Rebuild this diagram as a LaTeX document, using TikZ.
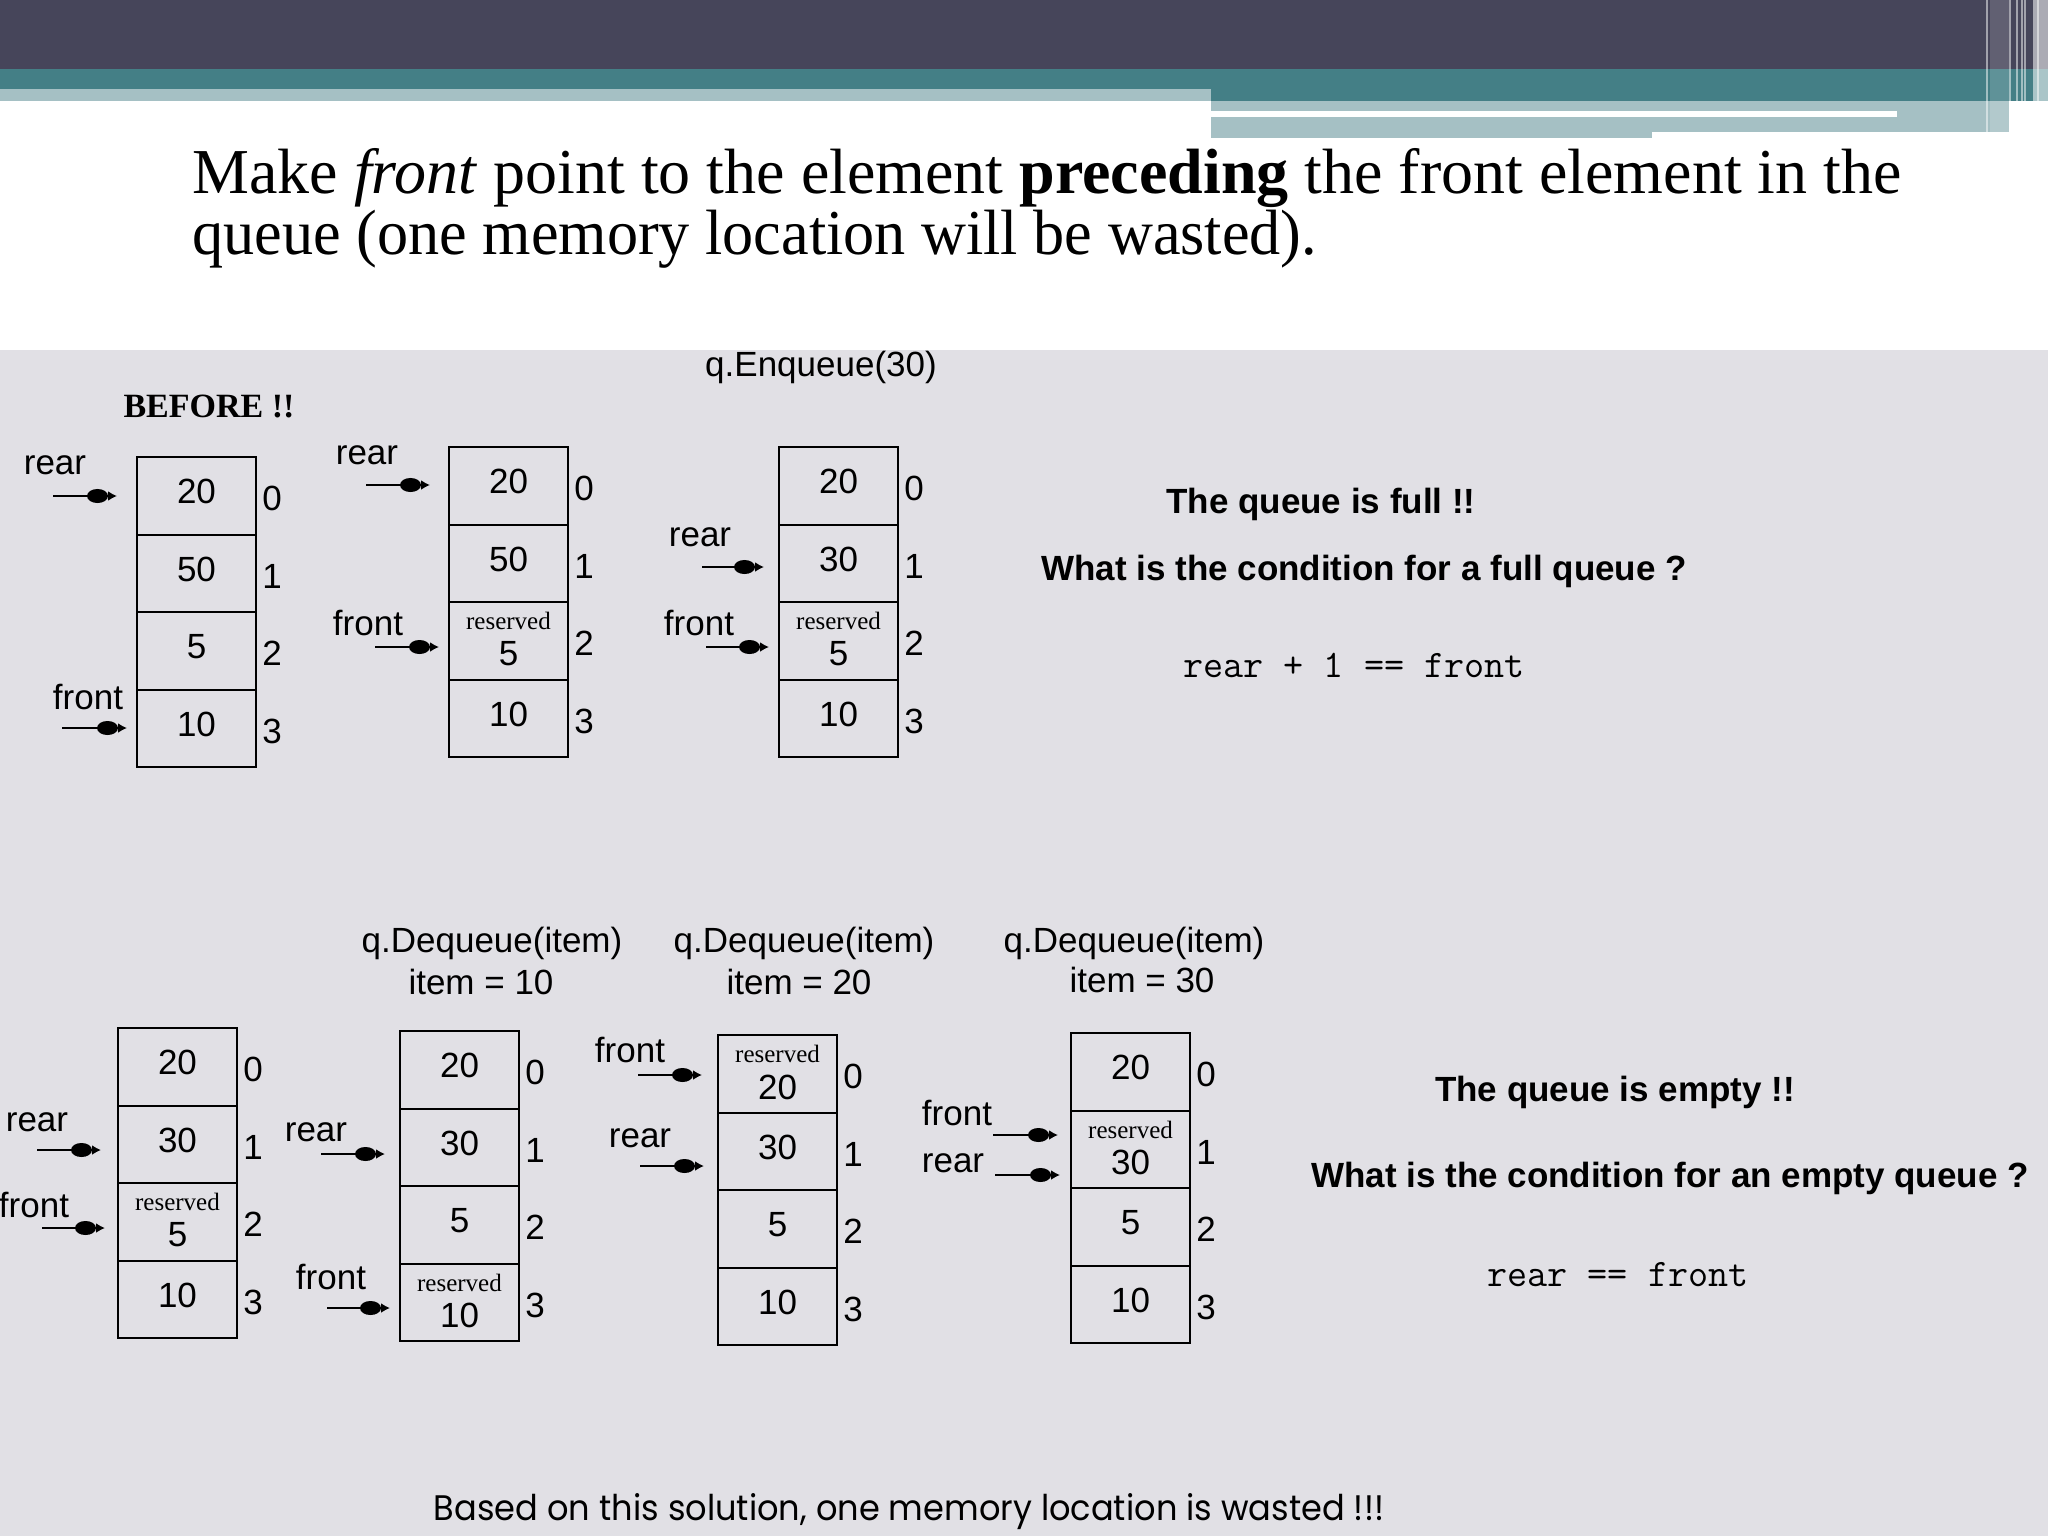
\documentclass[tikz,border=0pt]{standalone}
\usepackage{fontspec}
\usepackage{graphicx}
\setmainfont{Liberation Serif}
\setsansfont{Liberation Sans}
\newfontfamily\capfont{Poppins}
\usetikzlibrary{arrows.meta}
\definecolor{hdark}{RGB}{70,69,90}
\definecolor{hteal}{RGB}{68,127,134}
\definecolor{hlight}{RGB}{165,192,196}
\definecolor{bggray}{RGB}{225,224,229}
\tikzset{
 cellbox/.style={draw=black, line width=1pt, minimum width=59.5pt, minimum height=38.75pt, inner sep=0pt},
 val/.style={font=\fontsize{17.5}{20}\selectfont\sffamily, inner sep=0pt},
 idx/.style={font=\fontsize{17.5}{20}\selectfont\sffamily, inner sep=0pt},
 resv/.style={font=\fontsize{12.5}{14}\selectfont\rmfamily, inner sep=0pt},
 ptrlabel/.style={font=\fontsize{17.5}{20}\selectfont\sffamily, inner sep=0pt},
 ptr/.style={line width=1pt, -{Ellipse[length=10.5pt,width=7pt] Latex[length=4.5pt,width=5pt]}, shorten >=6.5pt},
 optext/.style={font=\fontsize{17.5}{20}\selectfont\sffamily, inner sep=0pt},
 boldtext/.style={font=\fontsize{17.5}{20}\selectfont\sffamily\bfseries, inner sep=0pt},
 codetext/.style={font=\fontsize{19.5}{22}\selectfont\ttfamily, inner sep=0pt},
 titletext/.style={font=\fontsize{32}{30.5}\selectfont\rmfamily, inner sep=0pt, anchor=base west},
}
\newcommand\qdraw[8]{%
 \foreach \v [count=\i from 0] in {#4,#5,#6,#7} {
   \node[cellbox] (#1-\i) at ({#2+59.5},{#3+77.5*\i+38.75}) {};
   \node[idx] (#1-i\i) at ([xshift=7.5pt,yshift=-1.5pt]#1-\i.east) {\i};
   \ifnum\i=#8
     \node[resv] (#1-r\i) at ([yshift=-10pt]#1-\i.north) {reserved};
     \node[val] (#1-v\i) at ([yshift=-26.5pt]#1-\i.north) {\v};
   \else
     \node[val] (#1-v\i) at ([yshift=2pt]#1-\i.center) {\v};
   \fi
 }}
\newcommand\ptrto[6]{% name, label, labelx, labely, startx, starty
  \node[ptrlabel] (#1l) at (#3,#4) {#2};
  \coordinate (#1s) at (#5,#6);}
\begin{document}
\begin{tikzpicture}[x=0.5pt,y=-0.5pt]
\useasboundingbox (0,0) rectangle (2048,1536);
% header
\fill[white] (0,0) rectangle (2048,1536);
\fill[hdark] (0,0) rectangle (2048,69);
\fill[hteal] (0,69) rectangle (2048,101);
\fill[hlight] (0,89) rectangle (1211,101);
\fill[hlight] (1211,101) rectangle (2009,138);
\fill[white] (1211,111) rectangle (1897,117);
\fill[white] (1652,132) rectangle (2009,138);
\fill[white,opacity=0.15] (1990,0) rectangle (2009,138);
\fill[white,opacity=0.55] (2033,0) rectangle (2048,138);
\foreach \xx in {1987,2010,2017,2022,2025,2038}
  \draw[white,opacity=0.5,line width=0.6pt] (\xx,0) -- (\xx,138);
% gray area
\fill[bggray] (0,350) rectangle (2048,1536);
% title
\node[titletext] (t1) at (192,193) {Make \textit{front} point to the element \textbf{preceding} the front element in the};
\node[titletext] (t2) at (192,254) {\scalebox{0.972}[1]{queue (one memory location will be wasted).}};
% labels
\node[font=\fontsize{17}{20}\selectfont\rmfamily\bfseries, inner sep=0pt] (before) at (209,406) {BEFORE !!};
\node[optext] (enq) at (821,367) {q.Enqueue(30)};
\node[optext] (d1a) at (492,943) {q.Dequeue(item)};
\node[optext] (d1b) at (481,982) {item = 10};
\node[optext] (d2a) at (804,943) {q.Dequeue(item)};
\node[optext] (d2b) at (799,982) {item = 20};
\node[optext] (d3a) at (1134,943) {q.Dequeue(item)};
\node[optext] (d3b) at (1142,980) {item = 30};
% queues
\qdraw{Q1}{137}{457}{20}{50}{5}{10}{-1}
\qdraw{Q2}{449}{447}{20}{50}{5}{10}{2}
\qdraw{Q3}{779}{447}{20}{30}{5}{10}{2}
\qdraw{Q4}{118}{1028}{20}{30}{5}{10}{2}
\qdraw{Q5}{400}{1031}{20}{30}{5}{10}{3}
\qdraw{Q6}{718}{1035}{20}{30}{5}{10}{0}
\qdraw{Q7}{1071}{1033}{20}{30}{5}{10}{1}
% pointers
\ptrto{Q1r}{rear}{55}{465}{53}{496}
\ptrto{Q1f}{front}{88}{697}{62}{728}
\ptrto{Q2r}{rear}{367}{455}{366}{485}
\ptrto{Q2f}{front}{368}{623}{375}{647}
\ptrto{Q3r}{rear}{700}{537}{702}{567}
\ptrto{Q3f}{front}{699}{623}{706}{647}
\ptrto{Q4r}{rear}{37}{1122}{37}{1150}
\ptrto{Q4f}{front}{34}{1205}{42}{1228}
\ptrto{Q5r}{rear}{316}{1132}{321}{1154}
\ptrto{Q5f}{front}{331}{1277}{327}{1308}
\ptrto{Q6f}{front}{630}{1050}{638}{1075}
\ptrto{Q6r}{rear}{640}{1138}{640}{1166}
\ptrto{Q7f}{front}{957}{1113}{993}{1135}
\ptrto{Q7r}{rear}{953}{1163}{995}{1175}
\draw[ptr, shorten >=9.5pt] (Q1rs) -- (Q1rs -| Q1-0.west);
\draw[ptr, shorten >=4.5pt] (Q1fs) -- (Q1fs -| Q1-3.west);
\draw[ptr, shorten >=9pt] (Q2rs) -- (Q2rs -| Q2-0.west);
\draw[ptr, shorten >=4.5pt] (Q2fs) -- (Q2fs -| Q2-2.west);
\draw[ptr, shorten >=7pt] (Q3rs) -- (Q3rs -| Q3-1.west);
\draw[ptr, shorten >=4.5pt] (Q3fs) -- (Q3fs -| Q3-2.west);
\draw[ptr, shorten >=8pt] (Q4rs) -- (Q4rs -| Q4-1.west);
\draw[ptr, shorten >=6pt] (Q4fs) -- (Q4fs -| Q4-2.west);
\draw[ptr, shorten >=7pt] (Q5rs) -- (Q5rs -| Q5-1.west);
\draw[ptr, shorten >=4.5pt] (Q5fs) -- (Q5fs -| Q5-3.west);
\draw[ptr, shorten >=7.5pt] (Q6fs) -- (Q6fs -| Q6-0.west);
\draw[ptr, shorten >=6.5pt] (Q6rs) -- (Q6rs -| Q6-1.west);
\draw[ptr, shorten >=6pt] (Q7fs) -- (Q7fs -| Q7-1.west);
\draw[ptr, shorten >=5pt] (Q7rs) -- (Q7rs -| Q7-1.west);
% right texts
\node[boldtext] (full1) at (1321,504) {The queue is full !!};
\node[boldtext] (full2) at (1364,571) {What is the condition for a full queue ?};
\node[codetext] (full3) at (1354,665) {rear + 1 == front};
\node[boldtext] (emp1) at (1615,1092) {The queue is empty !!};
\node[boldtext] (emp2) at (1670,1178) {What is the condition for an empty queue ?};
\node[codetext] (emp3) at (1618,1275) {rear == front};
% caption
\node[font=\capfont, inner sep=0pt] (cap) at (909,1512) {\resizebox{475pt}{13.5pt}{Based on this solution, one memory location is wasted !!!}};
\end{tikzpicture}
\end{document}
